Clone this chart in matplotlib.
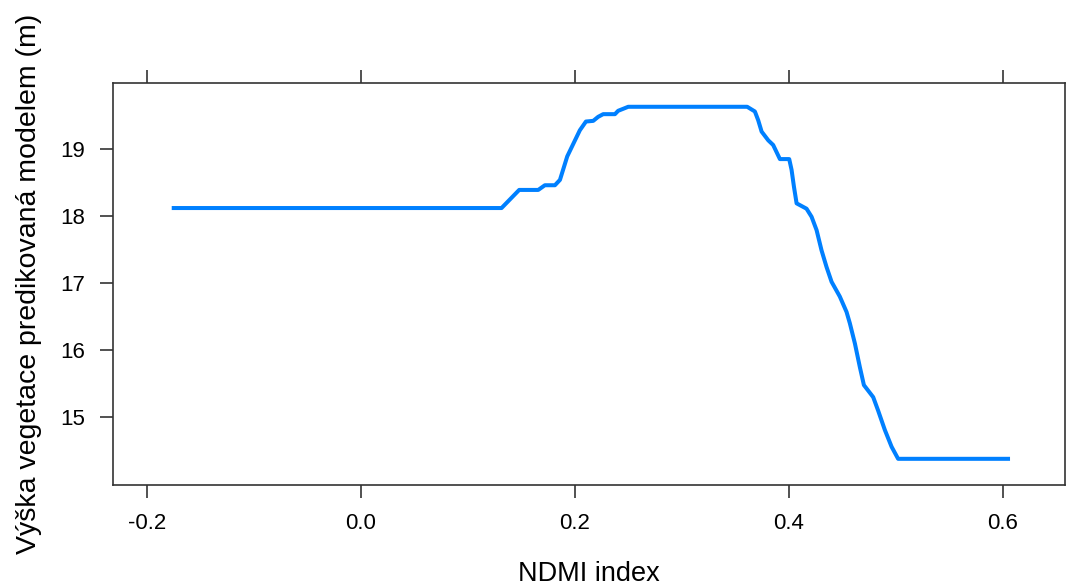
import numpy as np
import matplotlib.pyplot as plt

plt.rcParams['font.family'] = ['Liberation Sans', 'DejaVu Sans']

# partial dependence of predicted vegetation height on NDMI
ndmi = [-0.1766, 0.1317, 0.1482, 0.166, 0.1722, 0.1816, 0.1863, 0.1931, 0.2049,
        0.2106, 0.2174, 0.222, 0.2267, 0.2377, 0.2407, 0.247, 0.2501, 0.3613,
        0.3685, 0.3716, 0.3748, 0.381, 0.3856, 0.3919, 0.4006, 0.4028, 0.405,
        0.4075, 0.4168, 0.4215, 0.4262, 0.4308, 0.4355, 0.4402, 0.4479, 0.4542,
        0.4573, 0.462, 0.4666, 0.4704, 0.4791, 0.4837, 0.49, 0.4963, 0.5024, 0.607]
vyska = [18.12, 18.12, 18.39, 18.39, 18.46, 18.46, 18.54, 18.89, 19.28,
         19.41, 19.42, 19.48, 19.52, 19.52, 19.57, 19.61, 19.63, 19.63,
         19.56, 19.43, 19.26, 19.13, 19.06, 18.85, 18.85, 18.69, 18.44,
         18.19, 18.11, 17.99, 17.79, 17.49, 17.24, 17.02, 16.80, 16.57,
         16.40, 16.10, 15.75, 15.48, 15.30, 15.10, 14.81, 14.56, 14.38, 14.38]

xticks = [-0.2, 0.0, 0.2, 0.4, 0.6]
yticks = [15, 16, 17, 18, 19]

fig = plt.figure(figsize=(10.68, 5.86), dpi=100)
ax = fig.add_axes([0.1058, 0.1724, 0.8915, 0.686])
ax.plot(ndmi, vyska, color='#0080ff', lw=2.9, solid_capstyle='butt')

ax.set_xlim(-0.2315, 0.6585)
ax.set_ylim(13.99, 19.985)
ax.set_xticks(xticks)
ax.set_xticklabels(['%.1f' % v for v in xticks])
ax.set_yticks(yticks)
ax.tick_params(direction='out', length=9.4, width=1.2, color='#333333',
               labelsize=16, top=True, labeltop=False)
ax.tick_params(axis='x', pad=11)
ax.tick_params(axis='y', pad=11)
for s in ax.spines.values():
    s.set_color('#333333')
    s.set_linewidth(1.2)

ax.set_xlabel('NDMI index', fontsize=19.5, labelpad=19)
ax.set_ylabel('Výška vegetace predikovaná modelem (m)', fontsize=20.5, labelpad=13)

fig.savefig('out.png', dpi=100)
